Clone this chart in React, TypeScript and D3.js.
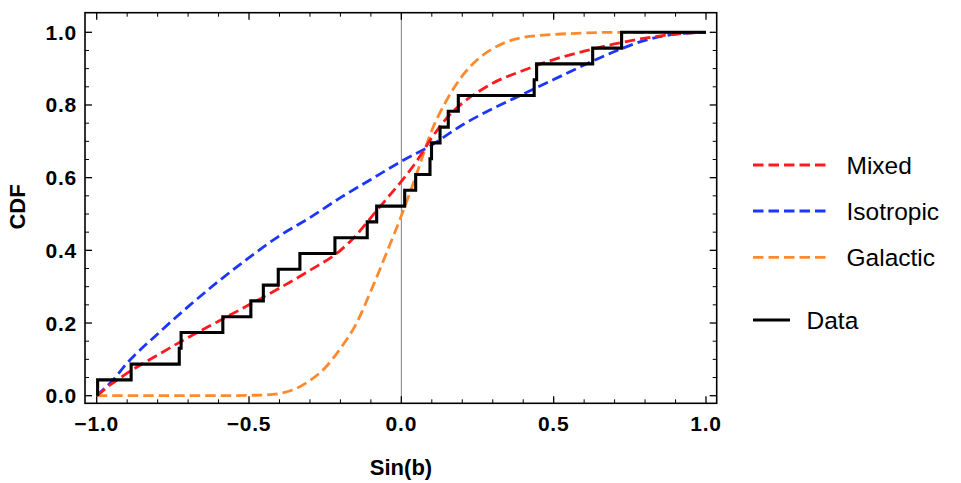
import * as d3 from "d3"

// Sorted Sin(b) values of the 23 events
const sinB = [
  -0.997, -0.887, -0.729, -0.723, -0.586, -0.494, -0.453, -0.404, -0.333, -0.218, -0.112, -0.081,
  0.011, 0.047, 0.094, 0.099, 0.127, 0.154, 0.187, 0.436, 0.444, 0.628, 0.723,
]

// Model CDFs
const mixedX = [-1, -0.95, -0.9, -0.8, -0.7, -0.6, -0.5, -0.4, -0.3, -0.2, -0.15, -0.1, -0.05, 0, 0.05, 0.1, 0.15, 0.2, 0.25, 0.3, 0.4, 0.5, 0.6, 0.7, 0.8, 0.9, 1]
const mixedY = [0, 0.033, 0.062, 0.112, 0.16, 0.205, 0.25, 0.296, 0.345, 0.4, 0.44, 0.49, 0.54, 0.59, 0.645, 0.71, 0.765, 0.805, 0.835, 0.86, 0.895, 0.925, 0.948, 0.968, 0.984, 0.995, 1]

const isoX = [-1, -0.95, -0.9, -0.8, -0.7, -0.6, -0.5, -0.4, -0.3, -0.2, -0.1, 0, 0.1, 0.2, 0.3, 0.4, 0.5, 0.6, 0.7, 0.8, 0.9, 1]
const isoY = [0, 0.04, 0.09, 0.17, 0.245, 0.315, 0.38, 0.44, 0.49, 0.545, 0.595, 0.645, 0.69, 0.745, 0.79, 0.83, 0.87, 0.91, 0.947, 0.978, 0.995, 1]

const galX = [-1, -0.6, -0.5, -0.45, -0.4, -0.35, -0.3, -0.25, -0.2, -0.15, -0.1, -0.05, 0, 0.05, 0.1, 0.15, 0.2, 0.25, 0.3, 0.35, 0.4, 0.5, 0.6, 0.7, 1]
const galY = [0, 0, 0.001, 0.002, 0.006, 0.018, 0.042, 0.077, 0.13, 0.195, 0.288, 0.39, 0.495, 0.61, 0.73, 0.815, 0.88, 0.925, 0.955, 0.975, 0.986, 0.994, 0.998, 1, 1]

const xTicks = [-1, -0.5, 0, 0.5, 1]
const yTicks = [0, 0.2, 0.4, 0.6, 0.8, 1]

const series = [
  { name: "Mixed", xs: mixedX, ys: mixedY, color: "#ff1a1f" },
  { name: "Isotropic", xs: isoX, ys: isoY, color: "#1a36ff" },
  { name: "Galactic", xs: galX, ys: galY, color: "#ff8a2e" },
]

const fmt = (v: number) => (v < 0 ? "\u2212" : "") + Math.abs(v).toFixed(1)

export default function App() {
  const width = 961
  const height = 483
  const frame = { left: 85, right: 716.7, top: 12.7, bottom: 403.3 }

  const x = d3.scaleLinear().domain([-1, 1]).range([96.7, 706])
  const y = d3.scaleLinear().domain([0, 1]).range([395.7, 32.3])

  const curve = d3
    .line<[number, number]>()
    .x((d) => x(d[0]))
    .y((d) => y(d[1]))
    .curve(d3.curveMonotoneX)

  // empirical CDF as a step line
  const n = sinB.length
  const stepPts: [number, number][] = [[sinB[0], 0], ...sinB.map((v, i) => [v, (i + 1) / n] as [number, number]), [1, 1]]
  const stepLine = d3
    .line<[number, number]>()
    .x((d) => x(d[0]))
    .y((d) => y(d[1]))
    .curve(d3.curveStepAfter)

  const xMinor = d3.range(-10, 11).map((i) => i / 10).filter((v) => !xTicks.some((t) => Math.abs(t - v) < 1e-9))
  const yMinor = d3.range(0, 21).map((i) => i / 20).filter((v) => !yTicks.some((t) => Math.abs(t - v) < 1e-9))

  const font = "'Liberation Sans', Arial, sans-serif"
  const legendY = [165, 211, 257.3]

  return (
    <div style={{ position: "fixed", left: 0, top: 0 }}>
      <svg width={width} height={height} style={{ display: "block", background: "#fff" }}>
        {/* zero line */}
        <line x1={x(0)} x2={x(0)} y1={frame.top} y2={frame.bottom} stroke="#808080" strokeWidth={1} />

        {/* model curves */}
        {[2, 1, 0].map((k) => {
          const s = series[k]
          const pts = s.xs.map((v, i) => [v, s.ys[i]] as [number, number])
          return (
            <path
              key={s.name}
              d={curve(pts) || ""}
              fill="none"
              stroke={s.color}
              strokeWidth={2.8}
              strokeDasharray="10.5,5"
            />
          )
        })}

        {/* data */}
        <path d={stepLine(stepPts) || ""} fill="none" stroke="#000" strokeWidth={3.1} strokeLinejoin="miter" />

        {/* frame */}
        <rect
          x={frame.left}
          y={frame.top}
          width={frame.right - frame.left}
          height={frame.bottom - frame.top}
          fill="none"
          stroke="#000"
          strokeWidth={1.6}
        />

        {/* x ticks, bottom and top */}
        {xTicks.map((t) => (
          <g key={"xt" + t}>
            <line x1={x(t)} x2={x(t)} y1={frame.bottom} y2={frame.bottom - 7} stroke="#000" strokeWidth={1.3} />
            <line x1={x(t)} x2={x(t)} y1={frame.top} y2={frame.top + 7} stroke="#000" strokeWidth={1.3} />
            <text
              x={x(t)}
              y={431}
              textAnchor="middle"
              fontFamily={font}
              fontWeight="bold"
              fontSize={21}
              letterSpacing={0.8}
            >
              {fmt(t)}
            </text>
          </g>
        ))}
        {xMinor.map((t) => (
          <g key={"xm" + t}>
            <line x1={x(t)} x2={x(t)} y1={frame.bottom} y2={frame.bottom - 4} stroke="#000" strokeWidth={1} />
            <line x1={x(t)} x2={x(t)} y1={frame.top} y2={frame.top + 4} stroke="#000" strokeWidth={1} />
          </g>
        ))}

        {/* y ticks, left and right */}
        {yTicks.map((t) => (
          <g key={"yt" + t}>
            <line x1={frame.left} x2={frame.left + 7} y1={y(t)} y2={y(t)} stroke="#000" strokeWidth={1.3} />
            <line x1={frame.right} x2={frame.right - 7} y1={y(t)} y2={y(t)} stroke="#000" strokeWidth={1.3} />
            <text
              x={77}
              y={y(t) + 7.5}
              textAnchor="end"
              fontFamily={font}
              fontWeight="bold"
              fontSize={21}
              letterSpacing={0.8}
            >
              {fmt(t)}
            </text>
          </g>
        ))}
        {yMinor.map((t) => (
          <g key={"ym" + t}>
            <line x1={frame.left} x2={frame.left + 4} y1={y(t)} y2={y(t)} stroke="#000" strokeWidth={1} />
            <line x1={frame.right} x2={frame.right - 4} y1={y(t)} y2={y(t)} stroke="#000" strokeWidth={1} />
          </g>
        ))}

        {/* axis titles */}
        <text x={401} y={475} textAnchor="middle" fontFamily={font} fontWeight="bold" fontSize={22}>
          Sin(b)
        </text>
        <text
          transform="translate(25,207) rotate(-90)"
          textAnchor="middle"
          fontFamily={font}
          fontWeight="bold"
          fontSize={22}
        >
          CDF
        </text>

        {/* legend */}
        {series.map((s, i) => (
          <g key={"lg" + s.name}>
            <line x1={753} x2={828} y1={legendY[i]} y2={legendY[i]} stroke={s.color} strokeWidth={2.8} strokeDasharray="10.5,5" />
            <text x={846.5} y={legendY[i] + 8.5} fontFamily={font} fontSize={24.5}>
              {s.name}
            </text>
          </g>
        ))}
        <line x1={753} x2={790} y1={320} y2={320} stroke="#000" strokeWidth={2.8} />
        <text x={806.5} y={328.5} fontFamily={font} fontSize={24.5}>
          Data
        </text>
      </svg>
    </div>
  )
}
